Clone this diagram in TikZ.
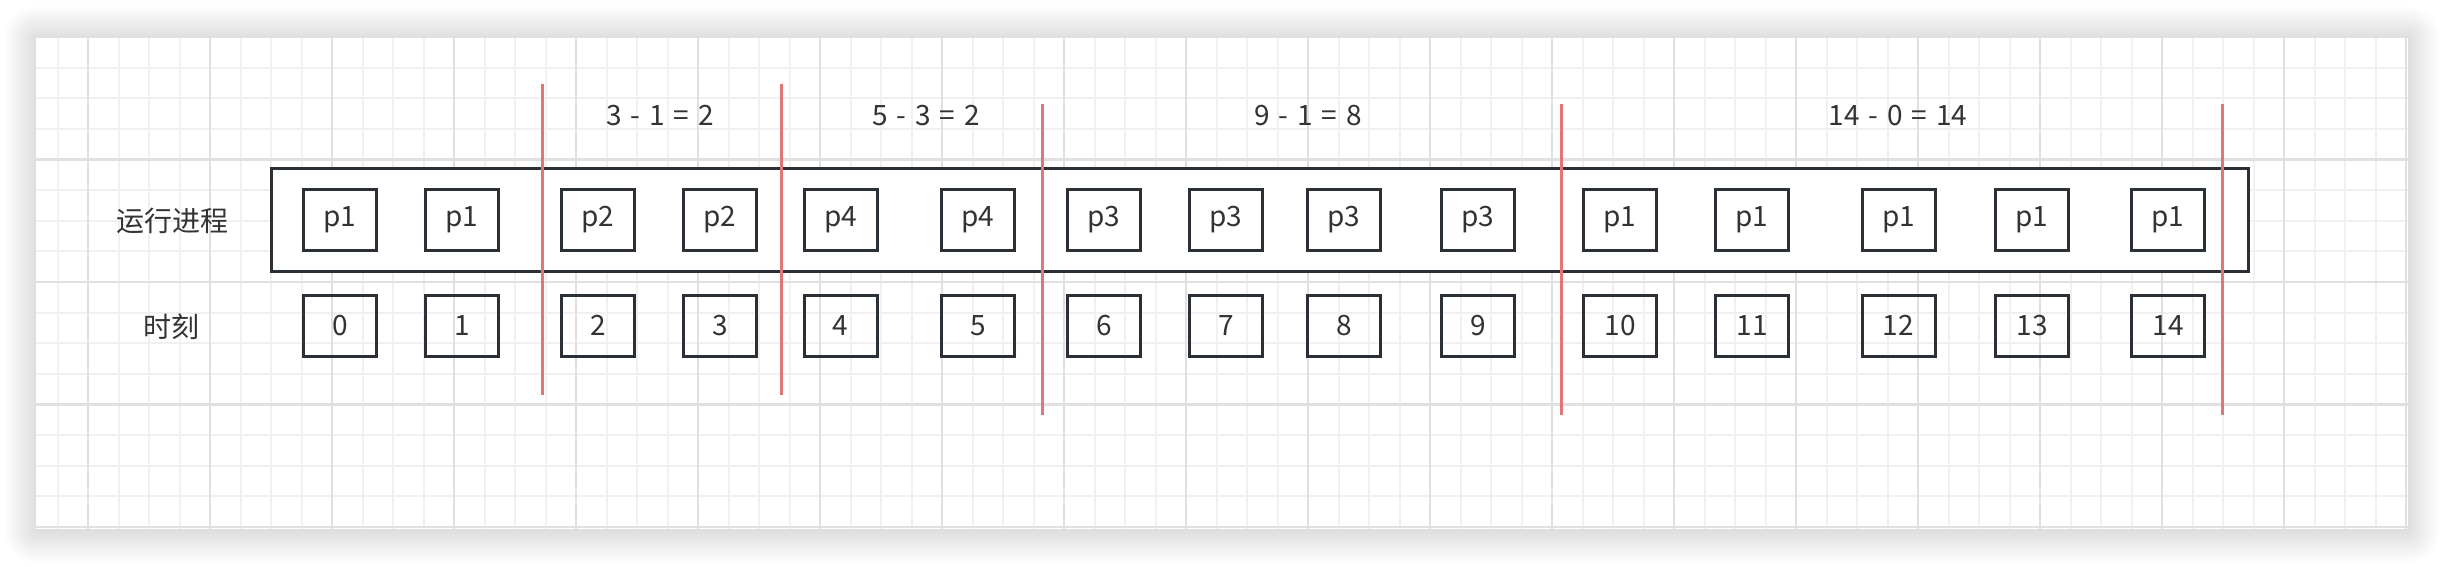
\documentclass[tikz,border=0pt]{standalone}
\usepackage{fontspec}
\setmainfont{Noto Sans CJK SC}
\definecolor{ink}{HTML}{2B2F36}
\definecolor{txt}{HTML}{333333}
\definecolor{redline}{RGB}{226,118,118}
\definecolor{gridminor}{HTML}{F0F0F0}
\definecolor{gridmajor}{HTML}{E0E0E0}
\newcommand\widesp{\spaceskip=9pt\relax}
\tikzset{
  cell/.style={draw=ink, line width=3pt, minimum width=73pt, minimum height=61pt, inner sep=0pt, text=txt, font=\fontsize{28}{32}\selectfont},
  lbl/.style={text=txt, inner sep=0pt, font=\fontsize{28}{32}\selectfont},
  sep/.style={draw=redline, line width=3pt},
  outerbox/.style={draw=ink, line width=3pt, fill=white},
}
\begin{document}
\begin{tikzpicture}[x=1pt, y=-1pt]
\useasboundingbox (0,0) rectangle (2446,566);
\fill[white] (0,0) rectangle (2446,566);
% shadow
\foreach \i in {1,...,32} {
  \fill[black, opacity=0.0052, rounded corners=\i pt] (36-\i,38-\i) rectangle (2408+\i,531+\i);
}
\fill[white] (36,36) rectangle (2408,529);
% grid
\begin{scope}
\clip (36,36) rectangle (2408,529);
\foreach \k in {-1,...,76} {
  \pgfmathsetmacro{\xx}{88+30.5*\k}
  \pgfmathtruncatemacro{\m}{mod(\k+4,4)}
  \ifnum\m=0\relax
  \else
    \draw[gridminor, line width=2pt] (\xx,36) -- (\xx,529);
  \fi
}
\foreach \k in {0,...,16} {
  \pgfmathsetmacro{\yy}{37+30.625*\k}
  \pgfmathtruncatemacro{\m}{mod(\k,4)}
  \ifnum\m=0\relax
  \else
    \draw[gridminor, line width=2pt] (36,\yy) -- (2408,\yy);
  \fi
}
\foreach \k in {0,...,19} {
  \pgfmathsetmacro{\xx}{88+122*\k}
  \draw[gridmajor, line width=2.2pt] (\xx,36) -- (\xx,529);
}
\foreach \k in {0,...,4} {
  \pgfmathsetmacro{\yy}{37+122.5*\k}
  \draw[gridmajor, line width=2.2pt] (36,\yy) -- (2408,\yy);
}
\end{scope}
% outer box
\draw[outerbox] (271.5,168.5) rectangle (2248.5,271.5);
\node[lbl] (rowa) at (172,221) {运行进程};
\node[lbl] (rowb) at (171,327) {时刻};
% cells
\foreach \n/\x/\p in {0/340/p1,1/462/p1,2/598/p2,3/720/p2,4/840.5/p4,5/978/p4,6/1104/p3,7/1226/p3,8/1344/p3,9/1478/p3,10/1620/p1,11/1752/p1,12/1898.5/p1,13/2032/p1,14/2168/p1} {
  \node[cell] (p\n) at (\x,220) {\p};
  \node[cell] (t\n) at (\x,325.5) {\n};
}
% formulas
\node[lbl] (f1) at (660,116) {\widesp 3 - 1 = 2};
\node[lbl] (f2) at (926,116) {\widesp 5 - 3 = 2};
\node[lbl] (f3) at (1308,116) {\widesp 9 - 1 = 8};
\node[lbl] (f4) at (1898,116) {\widesp 14 - 0 = 14};
% separators
\coordinate (s1a) at (542,84);  \coordinate (s1b) at (542,395);
\coordinate (s2a) at (781,84);  \coordinate (s2b) at (781,395);
\coordinate (s3a) at (1042,104); \coordinate (s3b) at (1042,415);
\coordinate (s4a) at (1561,104); \coordinate (s4b) at (1561,415);
\coordinate (s5a) at (2222,104); \coordinate (s5b) at (2222,415);
\draw[sep] (s1a) -- (s1b);
\draw[sep] (s2a) -- (s2b);
\draw[sep] (s3a) -- (s3b);
\draw[sep] (s4a) -- (s4b);
\draw[sep] (s5a) -- (s5b);
\end{tikzpicture}
\end{document}
